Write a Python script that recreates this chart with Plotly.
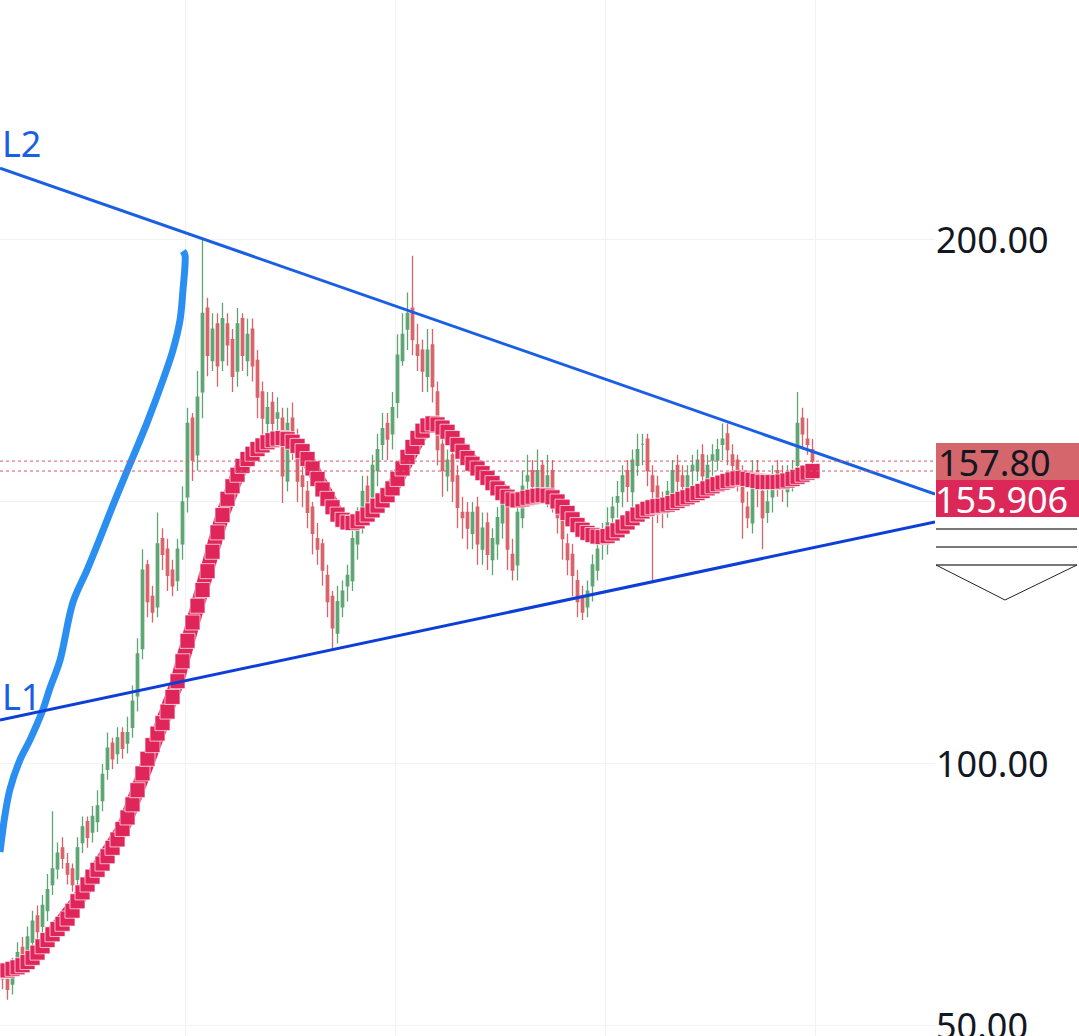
import plotly.graph_objects as go

# ---------------- data ----------------
opens = [61,59,58,62,65,64,66,71,69,72,
         77,80,84,81,80,78,85,89,87,89,
         93,99,104,102,106,104,107,113,122,138,
         132,130,143,141,137,135,142,151,166,159,
         171,187,177,184,177,184,181,175,185,177,
         183,177,171,165,169,166,166,154,166,161,
         155,152,149,143,142,136,132,125,130,134,
         135,142,147,153,151,156,161,165,163,169,
         177,183,187,180,179,174,180,171,161,155,
         159,155,148,148,144,149,141,146,139,142,
         146,151,140,138,147,154,156,152,157,151,
         156,150,148,142,140,135,132,130,134,137,
         142,142,147,150,152,156,152,157,161,162,
         155,153,149,150,151,157,155,152,156,156,
         159,154,158,158,161,163,159,158,156,149,
         146,156,152,148,151,156,155,152,154,157,
         166,162,160]
highs = [62,61,63,66,67,69,72,73,75,79,
         91,85,86,83,81,86,90,90,92,95,
         100,106,105,107,107,109,115,124,141,139,
         134,148,145,143,139,143,153,168,167,175,
         200,189,186,186,188,186,183,187,186,185,
         185,179,173,171,171,170,168,168,169,164,
         158,154,150,146,143,138,133,134,135,138,
         146,149,155,155,159,163,167,167,171,182,
         186,190,197,184,181,183,183,173,163,160,
         161,157,151,150,150,151,148,148,145,149,
         154,153,143,150,156,159,158,160,158,159,
         158,152,150,144,142,137,134,135,140,143,
         146,149,151,154,157,158,160,163,163,163,
         157,155,152,154,158,159,157,157,159,160,
         161,159,161,162,165,165,161,159,157,152,
         158,158,154,153,157,158,157,157,158,171,
         168,166,162]
lows = [57,55,56,60,61,62,64,66,67,70,
        75,78,80,77,75.6,76,83,84,85,87,
        91,97,99,100,101,102,105,110,120,128,
        127,128,137,133,132,133,139,148,154,156,
        166,174,175,172,175,176,171,172,175,174,
        173,166,162,162,162,163,149.8,152,158,150,
        149,145,140,138,134,128,121.8,123,128,131,
        133,139,144,147,149,153,158,158,160,166,
        176,179,178,175,171,171,169,157,151,152,
        150,145,143,141,141,138,138,137,136,139,
        143,137,135,135,145,150,150,150,150,149,
        148,144,139,136,132,128,127.5,128,131,135,
        139,140,144,147,149,150,149,155,157,153,
        134.5,146,145,147,149,151,150,150,153,154,
        152,152,155,156,158,157,155,152,143,145,
        144,149,141,146,148,151,150,149,152,154,
        160,159,156]
closes = [59,57,61,64,63,67,70,68,73,76,
          80,83,82,79,77,84,88,86,90,92,
          98,103,101,105,103,106,112,121,137,131,
          129,142,140,136,134,141,150,165,158,170,
          186,178,183,176,185,180,174,184,178,182,
          176,170,166,168,165,167,155,165,162,154,
          153,148,144,141,137,131,126,131,133,136,
          143,146,152,150,157,160,164,162,168,178,
          182,186,181,178,175,179,172,160,156,158,
          154,149,147,145,148,142,145,140,143,147,
          150,141,137,148,153,155,153,156,152,155,
          151,147,143,139,136,131,129,133,138,141,
          143,146,149,151,155,153,158,160,161,156,
          152,150,149,152,156,154,153,155,157,158,
          155,157,159,160,162,160,157,155,150,147,
          155,153,147,150,155,154,153,155,156,165,
          163,161,157.8]
ma_values = [60.5,60.6,60.9,61.2,61.6,62.2,63.0,64.0,65.2,66.4,
             67.5,68.5,69.5,70.5,72.0,73.8,75.5,77.0,78.5,79.8,
             81.0,82.4,84.0,85.6,87.6,89.8,92.3,95.0,98.2,101.0,
             103.6,105.8,107.8,110.0,112.8,115.8,119.6,123.5,127.0,130.2,
             133.2,136.8,140.5,144.2,147.5,150.6,153.0,155.2,156.9,158.2,
             159.2,160.1,160.8,161.4,161.8,162.1,162.2,162.0,161.5,160.7,
             159.7,158.2,156.4,154.4,152.4,150.6,149.0,147.6,146.6,146.1,
             146.0,146.3,146.9,147.6,148.4,149.3,150.3,151.3,152.6,154.4,
             156.4,158.6,160.5,162.2,163.6,164.6,165.0,164.8,164.2,163.4,
             162.2,160.9,159.6,158.4,157.3,156.4,155.5,154.6,153.6,152.6,
             151.7,151.0,150.5,150.3,150.5,150.8,151.0,151.2,151.3,151.2,
             150.9,150.1,149.1,147.9,146.7,145.6,144.7,144.1,143.7,143.4,
             143.3,143.5,144.0,144.6,145.3,146.1,146.9,147.6,148.2,148.7,
             149.0,149.2,149.3,149.5,149.8,150.2,150.6,150.9,151.3,151.7,
             152.1,152.6,153.0,153.4,153.7,154.0,154.3,154.5,154.6,154.4,
             154.2,154.0,153.8,153.8,153.8,153.8,153.9,154.1,154.4,154.8,
             155.2,155.6,155.906]
bars = list(range(len(closes)))

# hand-drawn blue curve (bar index, price)
curve_x = [-0.5,0.5,1.5,3.5,5.5,7.9,9.5,11.5,14.1,16.9,19.5,22.1,24.9,28.9,32.1,34.1,35.5,36.1,36.5,36.5,36.1]
curve_y = [83.2,90.3,95.2,100.8,104.6,109.9,114.5,119.8,130.9,137.0,143.1,149.4,155.9,165.1,173.3,179.0,184.7,190.5,195.2,197.1,197.9]

# trend lines (bar index, price)
trend_x = [-0.5, 186.5]
l2_y = [213.7, 151.5]
l1_y = [108.4, 146.2]
label_l2 = ("L2", 218.5)
label_l1 = ("L1", 112.8)

last_price = 157.80
ma_last = 155.906
y_ticks = [50, 100, 150, 200]
y_tick_text = ["", "100.00", "", "200.00"]
bottom_tick = (50, "50.00")   # drawn as a note: it is cut off by the window's edge

FONT = "Noto Sans"
fig = go.Figure()

fig.add_trace(go.Candlestick(
    x=bars, open=opens, high=highs, low=lows, close=closes,
    increasing=dict(line=dict(color="#5fa574", width=1.3), fillcolor="#5fa574"),
    decreasing=dict(line=dict(color="#d8636a", width=1.3), fillcolor="#d8636a"),
    whiskerwidth=0, hoverinfo="skip", showlegend=False))

fig.add_trace(go.Scatter(
    x=bars, y=ma_values, mode="lines+markers",
    line=dict(color="#e0255a", width=14),
    marker=dict(symbol="square", size=15, color="#e0255a",
                line=dict(color="rgba(255,255,255,0.85)", width=0.8)),
    hoverinfo="skip", showlegend=False))

fig.add_trace(go.Scatter(
    x=curve_x, y=curve_y, mode="lines",
    line=dict(color="#2b8ff2", width=7, shape="spline"),
    hoverinfo="skip", showlegend=False))

fig.add_trace(go.Scatter(x=trend_x, y=l2_y, mode="lines",
                         line=dict(color="#1a5fe3", width=3),
                         hoverinfo="skip", showlegend=False))
fig.add_trace(go.Scatter(x=trend_x, y=l1_y, mode="lines",
                         line=dict(color="#0d3fd8", width=3),
                         hoverinfo="skip", showlegend=False))

for txt, yv in (label_l2, label_l1):
    fig.add_annotation(x=0, xref="paper", y=yv, yref="y", text=txt,
                       showarrow=False, xanchor="left", yanchor="middle",
                       font=dict(family=FONT, size=36, color="#1a5fe3"))

# dotted price lines
for yv in (last_price, ma_last):
    fig.add_shape(type="line", xref="paper", x0=0, x1=1, yref="y", y0=yv, y1=yv,
                  line=dict(color="#d9576b", width=1, dash="dot"))

# price label boxes in the axis area
PW = 935.0
H = 1036.0
def px(xp):
    return xp / PW
def py(yp):
    return 1 - yp / H

fig.add_shape(type="rect", xref="paper", yref="paper",
              x0=px(936), x1=px(1079), y0=py(480), y1=py(443),
              fillcolor="#d5666b", line=dict(width=0), layer="above")
fig.add_shape(type="rect", xref="paper", yref="paper",
              x0=px(936), x1=px(1079), y0=py(517), y1=py(480),
              fillcolor="#dc2858", line=dict(width=0), layer="above")
fig.add_annotation(x=px(937), y=py(461.5), xref="paper", yref="paper",
                   text=f"{last_price:.2f}", showarrow=False,
                   xanchor="left", yanchor="middle", height=32, borderpad=0,
                   font=dict(family=FONT, size=36, color="#131722"))
fig.add_annotation(x=px(934), y=py(498.5), xref="paper", yref="paper",
                   text=f"{ma_last:.3f}", showarrow=False,
                   xanchor="left", yanchor="middle", height=32, borderpad=0,
                   font=dict(family=FONT, size=36, color="#ffffff"))
fig.add_annotation(x=px(935), y=bottom_tick[0], xref="paper", yref="y",
                   text=bottom_tick[1], showarrow=False,
                   xanchor="left", yanchor="middle", borderpad=0,
                   font=dict(family=FONT, size=36, color="#131722"))

# small indicator glyph under the labels
for yp in (529, 547, 565):
    fig.add_shape(type="line", xref="paper", yref="paper",
                  x0=px(936), x1=px(1077), y0=py(yp), y1=py(yp),
                  line=dict(color="#787878", width=2))
fig.add_shape(type="path", xref="paper", yref="paper",
              path=f"M {px(936)} {py(565)} L {px(1005)} {py(600)} L {px(1077)} {py(565)}",
              line=dict(color="#222222", width=1))

fig.update_layout(
    width=1079, height=1036,
    margin=dict(l=0, r=144, t=0, b=0, autoexpand=False),
    paper_bgcolor="white", plot_bgcolor="white",
    showlegend=False, hovermode=False,
    font=dict(family=FONT, color="#131722"),
    xaxis=dict(range=[-0.5, 186.5], rangeslider=dict(visible=False),
               showticklabels=False, ticks="", tick0=36.5, dtick=42,
               showgrid=True, gridcolor="#f0f2f6", gridwidth=1,
               zeroline=False, showline=False, fixedrange=True),
    yaxis=dict(range=[48.09, 245.8], side="right", tickmode="array",
               tickvals=y_ticks, ticktext=y_tick_text,
               tickfont=dict(family=FONT, size=36, color="#131722"),
               ticks="", ticklabelstandoff=0,
               showgrid=True, gridcolor="#f0f2f6", gridwidth=1,
               zeroline=False, showline=False, fixedrange=True),
)

fig.write_html(
    "out.html", config={"displayModeBar": False},
    post_script=("document.documentElement.style.overflow='hidden';"
                 "document.body.style.overflow='hidden';"
                 "document.body.style.margin='0';document.body.style.padding='0';"))
